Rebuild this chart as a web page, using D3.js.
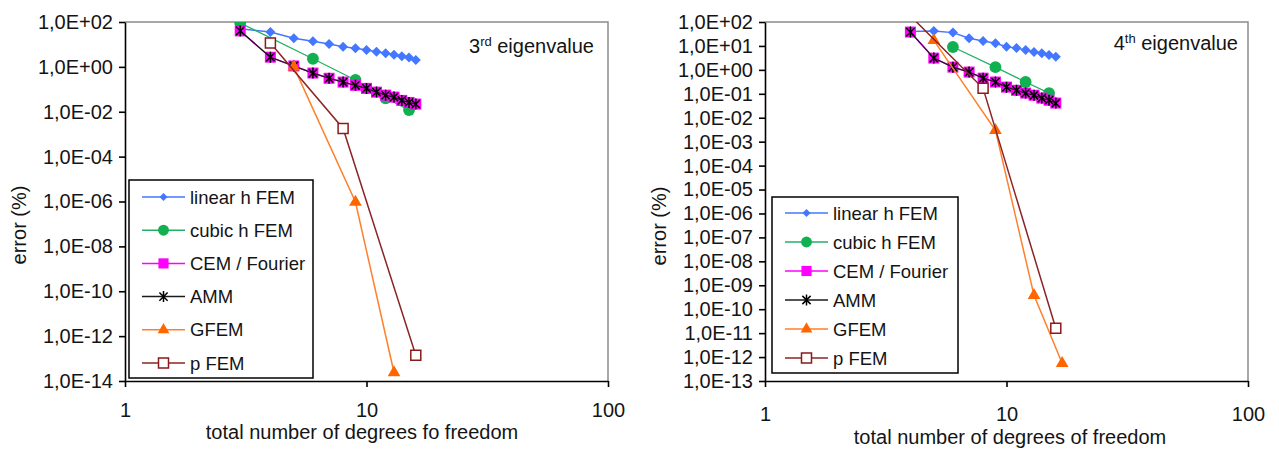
<!DOCTYPE html>
<html>
<head>
<meta charset="utf-8">
<script src="https://cdn.jsdelivr.net/npm/d3@7"></script>
<style>
body { margin: 0; background: #fff; }
text { font-family: "Liberation Sans", Arial, sans-serif; fill: #141414; }
</style>
</head>
<body>
<script>
var WIDTH = 1279;
var HEIGHT = 451;

// ---- 3rd eigenvalue (left panel) ----
var dofLinear3 = [3, 4, 5, 6, 7, 8, 9, 10, 11, 12, 13, 14, 15, 16];
var errLinear3 = [50, 35.7, 19, 14, 10.5, 7.9, 6.7, 5.6, 4.7, 4.1, 3.5, 3.0, 2.6, 2.0];
var dofCubic3 = [3, 6, 9, 12, 15];
var errCubic3 = [90, 2.3, 0.26, 0.04, 0.012];
var dofCem3 = [3, 4, 5, 6, 7, 8, 9, 10, 11, 12, 13, 14, 15, 16];
var errCem3 = [40, 2.7, 1.1, 0.53, 0.31, 0.21, 0.15, 0.11, 0.075, 0.055, 0.045, 0.032, 0.026, 0.022];
var dofAmm3 = [3, 4, 5, 6, 7, 8, 9, 10, 11, 12, 13, 14, 15, 16];
var errAmm3 = [40, 2.7, 1.1, 0.53, 0.31, 0.21, 0.15, 0.11, 0.075, 0.055, 0.045, 0.032, 0.026, 0.022];
var dofGfem3 = [5, 9, 13];
var errGfem3 = [1.0, 9.5e-7, 2.4e-14];
var dofPfem3 = [4, 8, 16];
var errPfem3 = [11.5, 0.0018, 1.4e-13];

// ---- 4th eigenvalue (right panel) ----
var dofLinear4 = [4, 5, 6, 7, 8, 9, 10, 11, 12, 13, 14, 15, 16];
var errLinear4 = [40, 42, 36, 21, 16, 13, 9.2, 8.1, 6.8, 5.6, 5.0, 4.2, 3.5];
var dofCubic4 = [6, 9, 12, 15];
var errCubic4 = [9, 1.3, 0.31, 0.107];
var dofCem4 = [4, 5, 6, 7, 8, 9, 10, 11, 12, 13, 14, 15, 16];
var errCem4 = [38, 3.1, 1.3, 0.81, 0.45, 0.31, 0.19, 0.14, 0.107, 0.087, 0.066, 0.054, 0.041];
var dofAmm4 = [4, 5, 6, 7, 8, 9, 10, 11, 12, 13, 14, 15, 16];
var errAmm4 = [38, 3.1, 1.3, 0.81, 0.45, 0.31, 0.19, 0.14, 0.107, 0.087, 0.066, 0.054, 0.041];
var dofGfem4 = [5, 9, 13, 17];
var errGfem4 = [17, 0.003, 3.8e-10, 5.5e-13];
var dofPfem4 = [4, 8, 16];
var errPfem4 = [180, 0.17, 1.6e-11];

var seriesNames = ["linear h FEM", "cubic h FEM", "CEM / Fourier", "AMM", "GFEM", "p FEM"];
var xTicks = [1, 10, 100];
var yTicks3 = [1e2, 1e0, 1e-2, 1e-4, 1e-6, 1e-8, 1e-10, 1e-12, 1e-14];
var yTicks4 = [1e2, 1e1, 1e0, 1e-1, 1e-2, 1e-3, 1e-4, 1e-5, 1e-6, 1e-7, 1e-8, 1e-9, 1e-10, 1e-11, 1e-12, 1e-13];

var styles = {
  "linear h FEM":  {line: "#4477ff", lw: 1.5, marker: "diamond", fill: "#4477ff", stroke: "none"},
  "cubic h FEM":   {line: "#22b066", lw: 1.3, marker: "circle", fill: "#11b050", stroke: "none"},
  "CEM / Fourier": {line: "#ff00ff", lw: 1.5, marker: "square", fill: "#ff00ff", stroke: "none"},
  "AMM":           {line: "#1a1a1a", lw: 1.2, marker: "star", fill: "none", stroke: "#000"},
  "GFEM":          {line: "#ff7f2a", lw: 1.5, marker: "triangle", fill: "#ff6600", stroke: "none"},
  "p FEM":         {line: "#8b2525", lw: 1.5, marker: "open", fill: "#fff", stroke: "#8b1a1a"}
};

var translate = function (x, y) {
  return "translate(" + x + "," + y + ")";
};

var sciFormat = function (d) {
  var e = Math.round(Math.log10(d));
  var a = Math.abs(e);
  return "1,0E" + (e < 0 ? "-" : "+") + (a < 10 ? "0" : "") + a;
};

var markerPath = function (type, big) {
  var k = big ? 1 : 0.85;
  if (type === "diamond") {
    var r = (big ? 5 : 4);
    return "M0," + (-r) + "L" + r + ",0L0," + r + "L" + (-r) + ",0Z";
  }
  if (type === "circle") return d3.symbol(d3.symbolCircle, 110 * k)();
  if (type === "square") return d3.symbol(d3.symbolSquare, 121 * k)();
  if (type === "open") return d3.symbol(d3.symbolSquare, 100)();
  if (type === "triangle") return d3.symbol(d3.symbolTriangle, 70 * k)();
  if (type === "star") {
    var s = 5.5;
    var q = s * 0.75;
    return "M0," + (-s) + "L0," + s + "M" + (-q) + "," + (-q) + "L" + q + "," + q +
           "M" + q + "," + (-q) + "L" + (-q) + "," + q;
  }
};

var svg = d3.select("body").append("svg")
  .attr("width", WIDTH)
  .attr("height", HEIGHT);

svg.append("rect").attr("width", WIDTH).attr("height", HEIGHT).attr("fill", "#fff");

var drawPanel = function (p) {
  var g = svg.append("g");
  var x = d3.scaleLog().domain([1, 100]).range([p.left, p.right]);
  var y = d3.scaleLog().domain([p.yMin, 100]).range([p.bottom, p.top]);

  // top / right frame
  g.append("path")
    .attr("d", "M" + p.left + "," + p.top + "H" + p.right + "V" + p.bottom)
    .attr("fill", "none").attr("stroke", "#8c8c8c").attr("stroke-width", 1.5);

  var clipId = "clip" + p.id;
  g.append("clipPath").attr("id", clipId).append("rect")
    .attr("x", p.left).attr("y", p.top)
    .attr("width", p.right - p.left).attr("height", p.bottom - p.top);

  var plot = g.append("g").attr("clip-path", "url(#" + clipId + ")");

  p.series.forEach(function (s) {
    var st = styles[s.name];
    var pts = s.dof.map(function (d, i) { return [d, s.err[i]]; });
    var line = d3.line()
      .x(function (d) { return x(d[0]); })
      .y(function (d) { return y(d[1]); });
    plot.append("path")
      .attr("d", line(pts))
      .attr("fill", "none")
      .attr("stroke", st.line)
      .attr("stroke-width", st.lw);
    plot.append("g").selectAll("path")
      .data(pts)
      .enter()
      .append("path")
      .attr("transform", function (d) { return translate(x(d[0]), y(d[1])); })
      .attr("d", markerPath(st.marker, true))
      .attr("fill", st.fill)
      .attr("stroke", st.stroke)
      .attr("stroke-width", 1.5);
  });

  // axes
  var yAxis = d3.axisLeft(y).tickValues(p.yTicks).tickFormat(sciFormat)
    .tickSize(6).tickSizeOuter(0).tickPadding(6);
  var ya = g.append("g").attr("transform", translate(p.left, 0)).call(yAxis);
  var xAxis = d3.axisBottom(x).tickValues(xTicks).tickFormat(d3.format("d"))
    .tickSize(6).tickSizeOuter(0).tickPadding(p.xPad);
  var xa = g.append("g").attr("transform", translate(0, p.bottom)).call(xAxis);
  [ya, xa].forEach(function (a) {
    a.select(".domain").attr("stroke", "#000").attr("stroke-width", 1.6);
    a.selectAll(".tick line").attr("stroke", "#000").attr("stroke-width", 1.6);
    a.selectAll(".tick text").style("font-size", "20px").attr("fill", "#141414");
  });

  // axis titles
  g.append("text")
    .attr("x", p.xTitleX).attr("y", p.xTitleY)
    .attr("text-anchor", "middle")
    .style("font-size", "20px")
    .text(p.xTitle);
  g.append("text")
    .attr("transform", translate(p.yTitleX, p.yTitleY) + " rotate(-90)")
    .attr("text-anchor", "middle")
    .attr("dy", "0.35em")
    .style("font-size", "20px")
    .text("error (%)");

  // eigenvalue label
  var lab = g.append("text")
    .attr("x", p.labelX).attr("y", p.labelY)
    .attr("text-anchor", "end")
    .style("font-size", "20px");
  lab.append("tspan").text(p.labelNum);
  lab.append("tspan").attr("dy", -7).style("font-size", "13px").text(p.labelSup);
  lab.append("tspan").attr("dy", 7).text(" eigenvalue");

  // legend
  var lg = g.append("g");
  lg.append("rect")
    .attr("x", p.legX).attr("y", p.legY)
    .attr("width", p.legW).attr("height", p.legH)
    .attr("fill", "#fff").attr("stroke", "#000").attr("stroke-width", 1.5);
  seriesNames.forEach(function (name, i) {
    var st = styles[name];
    var cy = p.legRow0 + i * p.legStep;
    lg.append("line")
      .attr("x1", p.legX + 13).attr("x2", p.legX + 56)
      .attr("y1", cy).attr("y2", cy)
      .attr("stroke", st.line).attr("stroke-width", 1.5);
    lg.append("path")
      .attr("transform", translate(p.legX + 34.5, cy))
      .attr("d", markerPath(st.marker, false))
      .attr("fill", st.fill)
      .attr("stroke", st.stroke)
      .attr("stroke-width", 1.5);
    lg.append("text")
      .attr("x", p.legX + 61).attr("y", cy)
      .attr("dy", "0.36em")
      .style("font-size", "18.5px")
      .text(name);
  });
};

drawPanel({
  id: 3, left: 125, right: 608, top: 22, bottom: 381, yMin: 1e-14, yTicks: yTicks3, xPad: 16,
  xTitle: "total number of degrees fo freedom", xTitleX: 362, xTitleY: 439,
  yTitleX: 19, yTitleY: 225,
  labelX: 594, labelY: 53, labelNum: "3", labelSup: "rd",
  legX: 129, legY: 180, legW: 184, legH: 198, legRow0: 197, legStep: 33.2,
  series: [
    {name: "linear h FEM", dof: dofLinear3, err: errLinear3},
    {name: "cubic h FEM", dof: dofCubic3, err: errCubic3},
    {name: "CEM / Fourier", dof: dofCem3, err: errCem3},
    {name: "AMM", dof: dofAmm3, err: errAmm3},
    {name: "GFEM", dof: dofGfem3, err: errGfem3},
    {name: "p FEM", dof: dofPfem3, err: errPfem3}
  ]
});

drawPanel({
  id: 4, left: 765, right: 1248, top: 22, bottom: 381, yMin: 1e-13, yTicks: yTicks4, xPad: 20,
  xTitle: "total number of degrees of freedom", xTitleX: 1010, xTitleY: 444,
  yTitleX: 659, yTitleY: 226,
  labelX: 1238, labelY: 50, labelNum: "4", labelSup: "th",
  legX: 772, legY: 197, legW: 186, legH: 176, legRow0: 213, legStep: 29,
  series: [
    {name: "linear h FEM", dof: dofLinear4, err: errLinear4},
    {name: "cubic h FEM", dof: dofCubic4, err: errCubic4},
    {name: "CEM / Fourier", dof: dofCem4, err: errCem4},
    {name: "AMM", dof: dofAmm4, err: errAmm4},
    {name: "GFEM", dof: dofGfem4, err: errGfem4},
    {name: "p FEM", dof: dofPfem4, err: errPfem4}
  ]
});
</script>
</body>
</html>
